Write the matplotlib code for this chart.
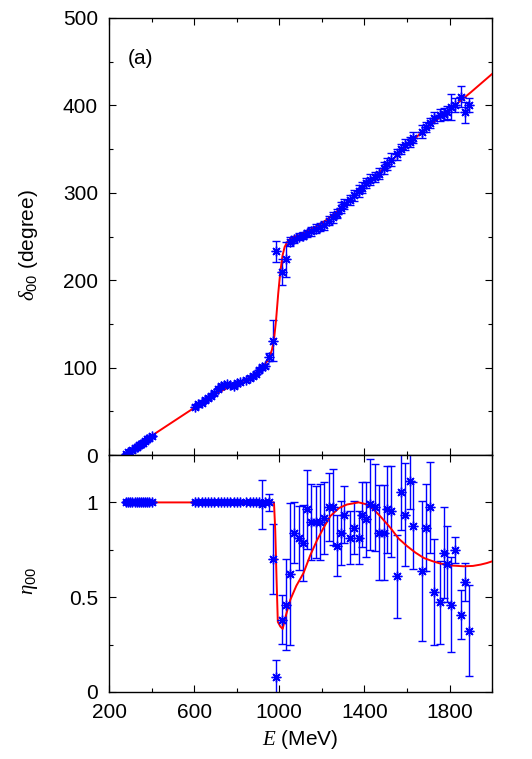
import numpy as np
import matplotlib
matplotlib.use("Agg")
import matplotlib.pyplot as plt
from matplotlib.ticker import MultipleLocator

plt.rcParams['font.family'] = ['Liberation Sans', 'DejaVu Sans']
plt.rcParams['mathtext.fontset'] = 'custom'
plt.rcParams['mathtext.rm'] = 'Liberation Sans'
plt.rcParams['mathtext.it'] = 'Liberation Serif:italic'

# data points: energy (MeV), phase shift delta00 (deg), inelasticity eta00
E_pts = [280, 290, 300, 310, 320, 330, 340, 350, 360, 370, 380, 390, 400,
         605, 620, 635, 650, 665, 680, 695, 710, 725, 740, 755, 770, 785, 800,
         815, 845, 860, 875, 890, 905, 920, 935, 950, 972,
         986, 1012, 1030, 1050, 1070, 1091, 1111, 1130, 1150, 1174, 1190, 1208,
         1232, 1252, 1271, 1290, 1306, 1331, 1350, 1373, 1389, 1409, 1425, 1449,
         1467, 1491, 1507, 1527, 1551, 1573, 1593, 1613, 1629, 1671, 1690, 1710,
         1729, 1753, 1773, 1789, 1809, 1825, 1856, 1872, 1891]

delta_pts = [1, 3, 4, 6, 8, 9, 11, 13, 14, 16, 18, 20, 22,
             55, 58, 60, 63, 65, 68, 71, 75, 79, 80, 81, 80, 79, 82,
             84, 86, 88, 90, 93, 97, 101, 102, 112, 131,
             233, 209, 224, 244, 247, 250, 251, 254, 256, 259, 261, 263,
             268, 272, 276, 283, 287, 292, 297, 302, 306, 311, 315, 318,
             322, 328, 333, 338, 344, 350, 355, 358, 363, 370, 375, 380,
             386, 389, 390, 392, 398, 400, 410, 392, 400]

delta_err = [1, 1, 1, 1, 1, 1, 1, 1, 1, 1, 1, 1, 1,
             2, 2, 2, 2, 2, 2, 2, 2, 2, 2, 2, 2, 2, 2,
             2, 2, 2, 2, 2, 2, 2, 2, 5, 23,
             12, 15, 20, 5, 4, 4, 4, 4, 5, 5, 5, 5,
             5, 6, 5, 6, 6, 6, 6, 7, 6, 6, 6, 6,
             6, 7, 7, 7, 6, 6, 6, 6, 6, 7, 6, 6,
             6, 7, 7, 7, 15, 8, 12, 12, 8]

eta_pts = [1, 1, 1, 1, 1, 1, 1, 1, 1, 1, 1, 1, 1,
           1, 1, 1, 1, 1, 1, 1, 1, 1, 1, 1, 1, 1, 1,
           1, 1, 1, 1, 1, 1, 0.99, 1.0, 1.0, 0.70,
           0.08, 0.381, 0.46, 0.624, 0.84, 0.813, 0.786, 0.963, 0.896, 0.896, 0.896, 0.919,
           0.975, 0.975, 0.772, 0.84, 0.936, 0.813, 0.866, 0.813, 0.936, 0.91, 0.989, 0.975,
           0.84, 0.84, 0.963, 0.954, 0.61, 1.057, 0.936, 1.113, 0.878, 0.637, 0.866, 0.975,
           0.527, 0.473, 0.734, 0.677, 0.46, 0.748, 0.407, 0.58, 0.324]

eta_err = [0.005, 0.005, 0.005, 0.005, 0.005, 0.005, 0.005, 0.005, 0.005, 0.005, 0.005, 0.005, 0.005,
           0.005, 0.005, 0.005, 0.005, 0.005, 0.005, 0.005, 0.005, 0.005, 0.005, 0.005, 0.005, 0.005, 0.005,
           0.005, 0.005, 0.005, 0.005, 0.005, 0.005, 0.13, 0.01, 0.045, 0.185,
           0.09, 0.13, 0.24, 0.375, 0.16, 0.17, 0.2, 0.21, 0.2, 0.19, 0.2, 0.19,
           0.18, 0.2, 0.16, 0.17, 0.15, 0.14, 0.14, 0.14, 0.17, 0.2, 0.24, 0.23,
           0.25, 0.25, 0.23, 0.24, 0.22, 0.2, 0.27, 0.15, 0.23, 0.37, 0.23, 0.24,
           0.28, 0.22, 0.24, 0.2, 0.25, 0.07, 0.13, 0.1, 0.24]

# fit curves
E_fit_d = [275, 400, 500, 600, 700, 800, 850, 900, 930, 950, 965, 975, 985, 995,
           1005, 1015, 1025, 1040, 1060, 1100, 1200, 1300, 1400, 1500, 1600, 1700,
           1800, 1900, 2000]
delta_fit = [0, 22, 38, 54, 70, 82, 87, 96, 103, 110, 120, 132, 155, 185,
             210, 228, 238, 245, 249, 252, 265, 284, 308, 330, 354, 376,
             395, 415, 436]

E_fit_e = [275, 975, 981, 987, 993, 1005, 1016, 1030, 1052, 1080, 1114, 1145, 1177,
           1210, 1240, 1280, 1318, 1373, 1410, 1444, 1480, 1522, 1560, 1601, 1640,
           1679, 1720, 1758, 1810, 1867, 1910, 1946, 1975, 2000]
eta_fit = [1.0, 1.0, 0.85, 0.6, 0.37, 0.345, 0.333, 0.40, 0.487, 0.56, 0.628, 0.72, 0.80,
           0.87, 0.928, 0.97, 0.989, 1.0, 0.99, 0.963, 0.92, 0.866, 0.81, 0.769, 0.735,
           0.707, 0.69, 0.677, 0.667, 0.663, 0.665, 0.672, 0.68, 0.689]

x_ticks = [200, 600, 1000, 1400, 1800]

blue = '#0000ff'
red = '#ff0000'
star = (8, 2, 0)

fig = plt.figure(figsize=(5.32, 7.59), dpi=100)
ax1 = fig.add_axes([0.205, 0.4005, 0.72, 0.5758])
ax2 = fig.add_axes([0.205, 0.0883, 0.72, 0.3122])

ax1.plot(E_fit_d, delta_fit, color=red, lw=1.4, zorder=3)
ax1.errorbar(E_pts, delta_pts, yerr=delta_err, fmt='none', ecolor=blue,
             elinewidth=1.0, capsize=3, capthick=1.0, zorder=2)
ax1.plot(E_pts, delta_pts, ls='none', marker=star, ms=7, mec=blue, mew=1.0,
         color=blue, zorder=4)

ax2.plot(E_fit_e, eta_fit, color=red, lw=1.4, zorder=3)
ax2.errorbar(E_pts, eta_pts, yerr=eta_err, fmt='none', ecolor=blue,
             elinewidth=1.0, capsize=3, capthick=1.0, zorder=2)
ax2.plot(E_pts, eta_pts, ls='none', marker=star, ms=7, mec=blue, mew=1.0,
         color=blue, zorder=4)

for ax in (ax1, ax2):
    ax.set_xlim(200, 2000)
    ax.set_xticks(x_ticks)
    ax.xaxis.set_minor_locator(MultipleLocator(200))
    ax.tick_params(which='both', direction='in', top=True, right=True,
                   labelsize=15, width=0.8)
    ax.tick_params(which='major', length=5, pad=8)
    ax.tick_params(which='minor', length=3)
    for s in ax.spines.values():
        s.set_linewidth(1.0)

ax1.set_ylim(0, 500)
ax1.yaxis.set_major_locator(MultipleLocator(100))
ax1.yaxis.set_minor_locator(MultipleLocator(50))
ax1.tick_params(labelbottom=False)
ax1.set_ylabel(r'$\delta_{00}$ (degree)', fontsize=15)
ax1.yaxis.set_label_coords(-0.18, 0.48)
ax1.text(0.05, 0.908, '(a)', transform=ax1.transAxes, fontsize=15,
         va='center', ha='left')

ax2.set_ylim(0, 1.25)
ax2.set_yticks([0, 0.5, 1])
ax2.set_yticklabels(['0', '0.5', '1'])
ax2.yaxis.set_minor_locator(MultipleLocator(0.25))
ax2.set_ylabel(r'$\eta_{00}$', fontsize=15)
ax2.yaxis.set_label_coords(-0.18, 0.47)
ax2.set_xlabel(r'$E$ (MeV)', fontsize=15)
ax2.xaxis.set_label_coords(0.5, -0.15)

fig.savefig('out.png', dpi=100)
